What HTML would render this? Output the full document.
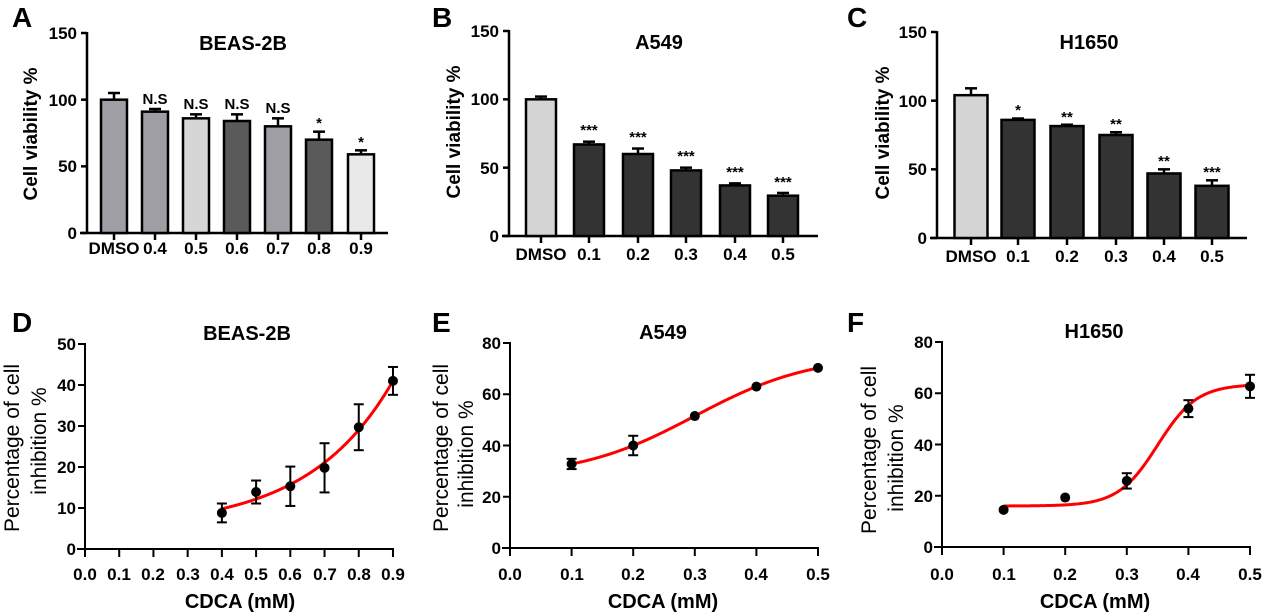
<!DOCTYPE html>
<html><head><meta charset="utf-8"><style>
html,body{margin:0;padding:0;background:#fff;}
svg{display:block;font-family:"Liberation Sans",Arial,sans-serif;}
.t{font-size:17px;font-weight:bold;}
.ti{font-size:20px;font-weight:bold;text-anchor:middle;}
.L{font-size:28px;font-weight:bold;}
.yl{font-size:19px;font-weight:bold;text-anchor:middle;}
.yl2{font-size:21px;text-anchor:middle;}
.xl{font-size:20px;font-weight:bold;text-anchor:middle;}
.s{font-size:15px;font-weight:bold;text-anchor:middle;}
</style></head><body>
<svg id="s" width="1269" height="614" viewBox="0 0 1269 614" xmlns="http://www.w3.org/2000/svg">
<g id="g" stroke="#000" fill="none" stroke-width="2.5"></g>
<text class="L" x="12" y="27">A</text>
<text class="L" x="432" y="27">B</text>
<text class="L" x="847" y="27">C</text>
<text class="L" x="12" y="332">D</text>
<text class="L" x="432" y="332">E</text>
<text class="L" x="847" y="332">F</text>
<text class="ti" x="243" y="50">BEAS-2B</text>
<text class="ti" x="659" y="49">A549</text>
<text class="ti" x="1089" y="49">H1650</text>
<text class="ti" x="247" y="340">BEAS-2B</text>
<text class="ti" x="663" y="339">A549</text>
<text class="ti" x="1094" y="338">H1650</text>
<text class="yl" transform="translate(37,134) rotate(-90)">Cell viability %</text>
<text class="yl" transform="translate(460,132) rotate(-90)">Cell viability %</text>
<text class="yl" transform="translate(889,133) rotate(-90)">Cell viability %</text>
<text class="yl2" transform="translate(19,448) rotate(-90)">Percentage of cell</text>
<text class="yl2" transform="translate(46,441) rotate(-90)">inhibition %</text>
<text class="yl2" transform="translate(448,448) rotate(-90)">Percentage of cell</text>
<text class="yl2" transform="translate(473,454) rotate(-90)">inhibition %</text>
<text class="yl2" transform="translate(876,450) rotate(-90)">Percentage of cell</text>
<text class="yl2" transform="translate(903,458) rotate(-90)">inhibition %</text>
<text class="xl" x="240" y="608">CDCA (mM)</text>
<text class="xl" x="663" y="608">CDCA (mM)</text>
<text class="xl" x="1095" y="608">CDCA (mM)</text>
<g class="t" text-anchor="end">
<text x="77" y="239">0</text><text x="77" y="172">50</text><text x="77" y="106">100</text><text x="77" y="39">150</text>
<text x="499" y="242">0</text><text x="499" y="174">50</text><text x="499" y="105">100</text><text x="499" y="37">150</text>
<text x="927" y="244">0</text><text x="927" y="175">50</text><text x="927" y="107">100</text><text x="927" y="38">150</text>
<text x="76" y="555">0</text><text x="76" y="514">10</text><text x="76" y="473">20</text><text x="76" y="432">30</text><text x="76" y="391">40</text><text x="76" y="350">50</text>
<text x="501" y="554">0</text><text x="501" y="503">20</text><text x="501" y="452">40</text><text x="501" y="400">60</text><text x="501" y="349">80</text>
<text x="933" y="553">0</text><text x="933" y="502">20</text><text x="933" y="451">40</text><text x="933" y="399">60</text><text x="933" y="348">80</text>
</g>
<g class="t" text-anchor="middle">
<text x="114" y="254">DMSO</text><text x="155" y="254">0.4</text><text x="196" y="254">0.5</text><text x="237" y="254">0.6</text><text x="278" y="254">0.7</text><text x="319" y="254">0.8</text><text x="361" y="254">0.9</text>
<text x="541" y="260">DMSO</text><text x="589" y="260">0.1</text><text x="638" y="260">0.2</text><text x="686" y="260">0.3</text><text x="735" y="260">0.4</text><text x="783" y="260">0.5</text>
<text x="971" y="262">DMSO</text><text x="1018" y="262">0.1</text><text x="1067" y="262">0.2</text><text x="1116" y="262">0.3</text><text x="1164" y="262">0.4</text><text x="1212" y="262">0.5</text>
<text x="85" y="580">0.0</text><text x="119" y="580">0.1</text><text x="153" y="580">0.2</text><text x="188" y="580">0.3</text><text x="222" y="580">0.4</text><text x="256" y="580">0.5</text><text x="290" y="580">0.6</text><text x="325" y="580">0.7</text><text x="359" y="580">0.8</text><text x="393" y="580">0.9</text>
<text x="510" y="580">0.0</text><text x="572" y="580">0.1</text><text x="633" y="580">0.2</text><text x="695" y="580">0.3</text><text x="756" y="580">0.4</text><text x="818" y="580">0.5</text>
<text x="942" y="580">0.0</text><text x="1004" y="580">0.1</text><text x="1065" y="580">0.2</text><text x="1127" y="580">0.3</text><text x="1188" y="580">0.4</text><text x="1250" y="580">0.5</text>
</g>
<g class="s">
<text x="155" y="104">N.S</text><text x="196" y="109">N.S</text><text x="237" y="109">N.S</text><text x="278" y="113">N.S</text><text x="319" y="128">*</text><text x="361" y="147">*</text>
<text x="589" y="135">***</text><text x="638" y="142">***</text><text x="686" y="161">***</text><text x="735" y="177">***</text><text x="783" y="187">***</text>
<text x="1018" y="115">*</text><text x="1067" y="122">**</text><text x="1116" y="129">**</text><text x="1164" y="166">**</text><text x="1212" y="177">***</text>
</g>
</svg>
<script>
var g=document.getElementById('g'),NS='http://www.w3.org/2000/svg';
function el(t,a){var e=document.createElementNS(NS,t);for(var k in a)e.setAttribute(k,a[k]);g.appendChild(e);return e;}
function ln(x1,y1,x2,y2,w,c){el('line',{x1:x1,y1:y1,x2:x2,y2:y2,'stroke-width':w||2.5,stroke:c||'#000'});}
function bars(ax,y0,sc,top,xend,xs,vals,errs,cols,bw,ticks){
  ln(ax,y0+1,ax,top-1);ln(ax-7,y0,xend,y0);
  ticks.forEach(function(v){ln(ax-6,y0-v*sc,ax,y0-v*sc);});
  xs.forEach(function(x,i){
    var yt=y0-vals[i]*sc,ye=y0-(vals[i]+errs[i])*sc;
    ln(x,yt,x,ye,2.5);ln(x-6,ye,x+6,ye,2.5);
    el('rect',{x:x-bw/2,y:yt,width:bw,height:y0-yt,fill:cols[i]});
    ln(x,y0,x,y0+7);
  });
}
var a='#9e9ea4',l='#d6d6d6',d='#5a5a5a',w='#e9e9e9',k='#333';
bars(87,233,1.3333,33,388,[114,155,196,237,278,319,361],[100,91,86,84,80,70,59],[5,2,3,5,6,6,3],[a,a,l,d,a,d,w],26,[0,50,100,150]);
bars(509,236,1.3667,31,818,[541,589,638,686,735,783],[100,67,60,48,37,29.5],[2,2,4,2,1.5,2],['#d4d4d4',k,k,k,k,k],30,[0,50,100,150]);
bars(937,238,1.3733,32,1247,[971,1018,1067,1116,1164,1212],[104,86,81.5,75,47,38],[5,1,1,2,3,4],['#d4d4d4',k,k,k,k,k],33,[0,50,100,150]);
function xy(ax,y0,sy,ymax,ystep,sx,xmax,xstep,pts,f,x0,x1){
  var X=function(u){return ax+u*sx},Y=function(v){return y0-v*sy};
  ln(ax,y0,ax,Y(ymax)-1,2);ln(ax-8,y0,X(xmax)+1,y0,2);
  for(var v=0;v<=ymax+1e-9;v+=ystep)ln(ax-7,Y(v),ax,Y(v),2);
  for(var u=0;u<=xmax+1e-9;u+=xstep)ln(X(u),y0,X(u),y0+8,2);
  var p='';for(var i=0;i<=200;i++){var u=x0+(x1-x0)*i/200;p+=(i?'L':'M')+X(u).toFixed(2)+','+Y(f(u)).toFixed(2);}
  el('path',{d:p,stroke:'#f00','stroke-width':3});
  pts.forEach(function(q){var x=X(q[0]),y=Y(q[1]);
    if(q[2]){var a=Y(q[1]+q[2]),b=Y(q[1]-q[2]);ln(x,a,x,b,2);ln(x-5,a,x+5,a,2);ln(x-5,b,x+5,b,2);}
    el('circle',{cx:x,cy:y,r:5,fill:'#000',stroke:'none'});});
}
xy(85,549,4.1,50,10,342.2,0.9,0.1,[[0.4,8.8,2.3],[0.5,13.9,2.8],[0.6,15.3,4.8],[0.7,19.8,6],[0.8,29.7,5.6],[0.9,41,3.4]],
  function(u){return 5+4.8*Math.exp(4.03*(u-0.4));},0.4,0.9);
xy(510,548,2.5625,80,20,616,0.5,0.1,[[0.1,32.8,2],[0.2,40,3.8],[0.3,51.5,0],[0.4,63,0],[0.5,70.3,0]],
  function(u){return 27.5+48/(1+Math.exp(-(u-0.3)/0.0956));},0.1,0.5);
xy(942,547,2.5625,80,20,616,0.5,0.1,[[0.1,14.5,0],[0.2,19.3,0],[0.3,25.8,3],[0.4,54,3.3],[0.5,62.7,4.5]],
  function(u){return 16+47.5/(1+Math.exp(-(u-0.35)/0.032));},0.1,0.5);
</script>
</body></html>
